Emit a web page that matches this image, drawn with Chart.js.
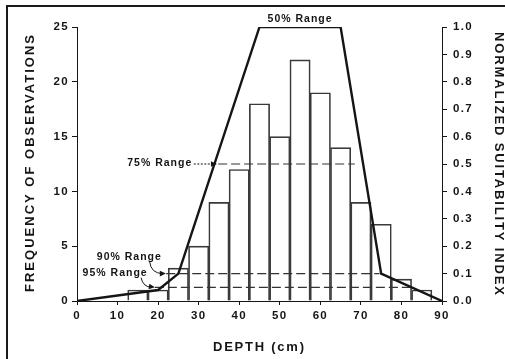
<!DOCTYPE html>
<html>
<head>
<meta charset="utf-8">
<script src="https://cdn.jsdelivr.net/npm/chart.js@4/dist/chart.umd.min.js"></script>
<style>
  html, body { margin: 0; padding: 0; background: #fff; overflow: hidden; }
  #wrap { position: relative; width: 505px; height: 359px; }
  #frame { position: absolute; left: 6px; top: 5px; width: 600px; height: 400px; border: 2px solid #1a1a1a; }
  canvas { position: absolute; left: 0; top: 0; }
</style>
</head>
<body>
<div id="wrap">
  <div id="frame"></div>
  <canvas id="chart" width="505" height="359"></canvas>
</div>
<script>
// histogram of observed depths (5 cm bins, centres)
const binCenters = [15, 20, 25, 30, 35, 40, 45, 50, 55, 60, 65, 70, 75, 80, 85];
const frequency = [1, 1, 3, 5, 9, 12, 18, 15, 22, 19, 14, 9, 7, 2, 1];

// suitability index curve
const suitDepth = [0, 20, 25, 45, 65, 75, 90];
const suitIndex = [0, 0.04, 0.1, 1.0, 1.0, 0.1, 0];

// dashed range lines
const range75Depth = [34.8, 68.5];
const range75Index = [0.5, 0.5];
const range90Depth = [22, 74.6];
const range90Index = [0.1, 0.1];
const range95Depth = [19.2, 82.3];
const range95Index = [0.05, 0.05];

const xTicks = [0, 10, 20, 30, 40, 50, 60, 70, 80, 90];
const freqTicks = [0, 5, 10, 15, 20, 25];
const indexTicks = [0, 0.1, 0.2, 0.3, 0.4, 0.5, 0.6, 0.7, 0.8, 0.9, 1.0];

const ink = "#151515";
const tickFont = { family: "'Liberation Sans', Arial, sans-serif", size: 11.5, weight: "bold" };

function pts(xs, ys) {
  return xs.map((x, i) => ({ x, y: ys[i] }));
}

function dashed(xs, ys) {
  return {
    type: "line",
    data: pts(xs, ys),
    yAxisID: "y1",
    borderColor: "#333",
    borderWidth: 1.2,
    borderDash: [9, 4],
    pointRadius: 0,
    fill: false,
    order: 2
  };
}

function arrowHead(ctx, x, y, ang) {
  ctx.save();
  ctx.translate(x, y);
  ctx.rotate(ang);
  ctx.beginPath();
  ctx.moveTo(0, 0);
  ctx.lineTo(-6, -2.8);
  ctx.lineTo(-6, 2.8);
  ctx.closePath();
  ctx.fill();
  ctx.restore();
}

function fitText(ctx, text, x, y, rot, target) {
  ctx.save();
  ctx.translate(x, y);
  ctx.rotate(rot);
  ctx.letterSpacing = "0px";
  const w = ctx.measureText(text).width;
  const sp = (target - w) / (text.length - 1);
  ctx.letterSpacing = sp + "px";
  ctx.textAlign = "left";
  ctx.textBaseline = "middle";
  ctx.fillText(text, -target / 2, 0);
  ctx.restore();
}

// wider, typewriter-like spacing for the tick labels
const spacing = {
  id: "spacing",
  beforeDraw(chart) { chart.ctx.letterSpacing = "1.3px"; }
};

const notes = {
  id: "notes",
  afterDraw(chart) {
    const ctx = chart.ctx;
    const xs = chart.scales.x;
    const ys = chart.scales.y1;
    const X = v => xs.getPixelForValue(v);
    const Y = v => ys.getPixelForValue(v);
    ctx.save();
    ctx.fillStyle = ink;
    ctx.strokeStyle = ink;

    // axis titles
    ctx.font = "bold 13px 'Liberation Sans', Arial, sans-serif";
    fitText(ctx, "FREQUENCY OF OBSERVATIONS", 30, 163.5, -Math.PI / 2, 257);
    fitText(ctx, "NORMALIZED SUITABILITY INDEX", 499, 163.5, Math.PI / 2, 263);
    fitText(ctx, "DEPTH (cm)", 258.5, 347.5, 0, 91);

    // range labels
    ctx.font = "bold 10.5px 'Liberation Sans', Arial, sans-serif";
    ctx.textBaseline = "middle";
    ctx.textAlign = "center";
    ctx.letterSpacing = "1px";
    ctx.fillText("50% Range", X(55), Y(1.0) - 8);
    ctx.fillText("75% Range", X(20.4), Y(0.5) - 0.5);
    ctx.fillText("90% Range", X(12.9), Y(0.16));
    ctx.fillText("95% Range", X(9.4), Y(0.103));
    ctx.letterSpacing = "0px";

    // 75% arrow (dotted)
    ctx.lineWidth = 1;
    ctx.setLineDash([2, 1.5]);
    ctx.beginPath();
    ctx.moveTo(X(28.8), Y(0.5));
    ctx.lineTo(X(33.6), Y(0.5));
    ctx.stroke();
    ctx.setLineDash([]);
    arrowHead(ctx, X(34.5), Y(0.5), 0);

    // 90% curved arrow
    ctx.beginPath();
    ctx.moveTo(X(17.9), Y(0.145));
    ctx.quadraticCurveTo(X(18.2), Y(0.1), X(21.2), Y(0.1));
    ctx.stroke();
    arrowHead(ctx, X(21.9), Y(0.1), 0);

    // 95% curved arrow
    ctx.beginPath();
    ctx.moveTo(X(15.8), Y(0.085));
    ctx.quadraticCurveTo(X(16.3), Y(0.05), X(18.5), Y(0.05));
    ctx.stroke();
    arrowHead(ctx, X(19.2), Y(0.05), 0.15);
    ctx.restore();
  }
};

new Chart(document.getElementById("chart"), {
  type: "bar",
  data: {
    datasets: [
      {
        type: "line",
        data: pts(suitDepth, suitIndex),
        yAxisID: "y1",
        borderColor: ink,
        borderWidth: 2.4,
        pointRadius: 0,
        tension: 0,
        fill: false,
        order: 1
      },
      dashed(range75Depth, range75Index),
      dashed(range90Depth, range90Index),
      dashed(range95Depth, range95Index),
      {
        type: "bar",
        data: pts(binCenters, frequency),
        yAxisID: "y",
        backgroundColor: "rgba(255,255,255,0)",
        borderColor: "#3a3a3a",
        borderWidth: 1,
        barPercentage: 1,
        categoryPercentage: 1,
        order: 3
      }
    ]
  },
  options: {
    responsive: false,
    animation: false,
    layout: { padding: { top: 27, left: 0, right: 0, bottom: 0 } },
    plugins: { legend: { display: false }, tooltip: { enabled: false } },
    scales: {
      x: {
        type: "linear",
        min: 0,
        max: 90,
        offset: false,
        afterBuildTicks: s => { s.ticks = xTicks.map(v => ({ value: v })); },
        afterFit: s => { s.height = 58; },
        border: { display: true, color: ink, width: 1 },
        grid: { display: true, drawOnChartArea: false, drawTicks: true, tickLength: 4, color: ink, offset: false },
        ticks: { color: ink, font: tickFont, padding: 4, maxRotation: 0 }
      },
      y: {
        position: "left",
        min: 0,
        max: 25,
        afterBuildTicks: s => { s.ticks = freqTicks.map(v => ({ value: v })); },
        afterFit: s => { s.width = 77; },
        border: { display: true, color: ink, width: 1 },
        grid: { display: true, drawOnChartArea: false, drawTicks: true, tickLength: 5, color: ink },
        ticks: { color: ink, font: tickFont, padding: 3 }
      },
      y1: {
        position: "right",
        min: 0,
        max: 1,
        afterBuildTicks: s => { s.ticks = indexTicks.map(v => ({ value: v })); },
        afterFit: s => { s.width = 63; },
        border: { display: true, color: ink, width: 1 },
        grid: { display: true, drawOnChartArea: false, drawTicks: true, tickLength: 5, color: ink },
        ticks: { color: ink, font: tickFont, padding: 6, callback: v => v.toFixed(1) }
      }
    }
  },
  plugins: [spacing, notes]
});
</script>
</body>
</html>
